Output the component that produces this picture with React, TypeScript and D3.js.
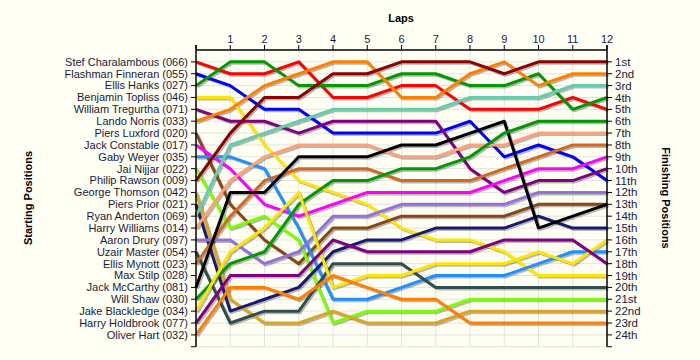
import React from "react";
import * as d3 from "d3";

const drivers = [
  "Stef Charalambous (066)", "Flashman Finneran (055)", "Ellis Hanks (027)", "Benjamin Topliss (046)",
  "William Tregurtha (071)", "Lando Norris (033)", "Piers Luxford (020)", "Jack Constable (017)",
  "Gaby Weyer (035)", "Jai Nijjar (022)", "Philip Rawson (009)", "George Thomson (042)",
  "Piers Prior (021)", "Ryan Anderton (069)", "Harry Williams (014)", "Aaron Drury (097)",
  "Uzair Master (054)", "Ellis Mynott (023)", "Max Stilp (028)", "Jack McCarthy (081)",
  "Will Shaw (030)", "Jake Blackledge (034)", "Harry Holdbrook (077)", "Oliver Hart (032)",
];

const finishLabels = [
  "1st", "2nd", "3rd", "4th", "5th", "6th", "7th", "8th", "9th", "10th", "11th", "12th",
  "13th", "14th", "15th", "16th", "17th", "18th", "19th", "20th", "21st", "22nd", "23rd", "24th",
];

const lapLabels = ["1", "2", "3", "4", "5", "6", "7", "8", "9", "10", "11", "12"];

// positions at laps 0..12
const stef = [1, 2, 2, 1, 4, 4, 3, 3, 5, 5, 5, 4, 5];
const flashman = [2, 3, 5, 5, 7, 7, 7, 7, 6, 9, 8, 9, 11];
const ellisHanks = [3, 1, 1, 3, 3, 3, 2, 2, 3, 3, 2, 5, 4];
const benjamin = [4, 4, 8, 11, 12, 13, 15, 16, 16, 17, 19, 19, 19];
const william = [5, 6, 6, 7, 6, 6, 6, 6, 10, 12, 11, 11, 10];
const lando = [6, 5, 3, 2, 1, 1, 4, 4, 2, 1, 3, 2, 2];
const piersLuxford = [7, 13, 16, 18, 15, 15, 14, 14, 14, 14, 13, 13, 13];
const jackConstable = [8, 10, 13, 14, 13, 12, 12, 12, 12, 11, 10, 10, 9];
const gaby = [9, 9, 10, 15, 21, 21, 20, 19, 19, 19, 18, 17, 17];
const jai = [10, 15, 14, 16, 23, 22, 22, 22, 21, 21, 21, 21, 21];
const philip = [11, 7, 4, 4, 2, 2, 1, 1, 1, 2, 1, 1, 1];
const george = [12, 21, 23, 23, 22, 23, 23, 23, 22, 22, 22, 22, 22];
const piersPrior = [13, 22, 21, 20, 17, 16, 16, 15, 15, 15, 14, 15, 15];
const ryan = [14, 8, 7, 6, 5, 5, 5, 5, 4, 4, 4, 3, 3];
const harryWilliams = [15, 11, 9, 8, 8, 8, 9, 9, 8, 8, 7, 7, 7];
const aaron = [16, 16, 18, 17, 14, 14, 13, 13, 13, 13, 12, 12, 12];
const uzair = [17, 23, 22, 22, 18, 18, 18, 20, 20, 20, 20, 20, 20];
const ellisMynott = [18, 14, 11, 10, 10, 10, 11, 11, 11, 10, 9, 8, 8];
const jackMcCarthy = [20, 12, 12, 9, 9, 9, 8, 8, 7, 6, 15, 14, 13];
const willShaw = [21, 18, 17, 13, 11, 11, 10, 10, 9, 7, 6, 6, 6];
const jake = [22, 17, 15, 12, 20, 19, 19, 18, 18, 18, 17, 18, 16];
const harryHoldbrook = [23, 19, 19, 19, 16, 17, 17, 17, 17, 16, 16, 16, 18];
const oliver = [24, 20, 20, 21, 19, 20, 21, 21, 23, 23, 23, 23, 23];

const series: { data: number[]; color: string }[] = [
  { data: stef, color: "#FF0000" },
  { data: flashman, color: "#0000FF" },
  { data: ellisHanks, color: "#009900" },
  { data: benjamin, color: "#FFE600" },
  { data: william, color: "#800080" },
  { data: lando, color: "#FF8000" },
  { data: piersLuxford, color: "#8B4513" },
  { data: jackConstable, color: "#FF00FF" },
  { data: gaby, color: "#1E90FF" },
  { data: jai, color: "#7CFC00" },
  { data: philip, color: "#8B0000" },
  { data: george, color: "#DAA520" },
  { data: piersPrior, color: "#191970" },
  { data: ryan, color: "#66CDAA" },
  { data: harryWilliams, color: "#FFA07A" },
  { data: aaron, color: "#9370DB" },
  { data: uzair, color: "#2F4F4F" },
  { data: ellisMynott, color: "#D2691E" },
  { data: jackMcCarthy, color: "#000000" },
  { data: willShaw, color: "#009900" },
  { data: jake, color: "#FFE600" },
  { data: harryHoldbrook, color: "#800080" },
  { data: oliver, color: "#FF8000" },
];

const W = 700;
const H = 360;
const font = "'Liberation Sans', Arial, sans-serif";
const textColor = "#1a1a3a";

export default function App() {
  const x = d3.scaleLinear().domain([0, 12]).range([196, 607]);
  const y = d3.scaleLinear().domain([0, 25]).range([50, 346.75]);
  const line = d3
    .line<number>()
    .x((_, i) => x(i))
    .y((d) => y(d));

  const rows = d3.range(1, 26);
  const laps = d3.range(0, 13);

  return (
    <svg
      width={W}
      height={H}
      style={{ position: "absolute", left: 0, top: 0 }}
      fontFamily={font}
    >
      <rect x={0} y={0} width={W} height={H} fill="#FFFFF4" />
      {/* grid */}
      {rows.map((r) => (
        <line key={"gh" + r} x1={x(0)} x2={x(12)} y1={y(r)} y2={y(r)} stroke="#E2E2E2" strokeWidth={1} />
      ))}
      {laps.slice(1, 12).map((l) => (
        <line key={"gv" + l} x1={x(l)} x2={x(l)} y1={y(0)} y2={y(25)} stroke="#E2E2E2" strokeWidth={1} />
      ))}
      {/* shadows */}
      {series.map((s, i) => (
        <path
          key={"sh" + i}
          d={line(s.data) || ""}
          fill="none"
          stroke="rgba(0,0,0,0.28)"
          strokeWidth={3}
          strokeLinejoin="round"
          transform="translate(1.5,1.5)"
        />
      ))}
      {/* lines */}
      {series.map((s, i) => (
        <path
          key={"ln" + i}
          d={line(s.data) || ""}
          fill="none"
          stroke={s.color}
          strokeWidth={3}
          strokeLinejoin="round"
        />
      ))}
      {/* axes */}
      <line x1={x(0)} x2={x(12)} y1={y(0)} y2={y(0)} stroke="#000" strokeWidth={1.5} />
      <line x1={x(0)} x2={x(0)} y1={y(0) - 5} y2={y(25)} stroke="#000" strokeWidth={1.5} />
      <line x1={x(12)} x2={x(12)} y1={y(0) - 5} y2={y(25)} stroke="#000" strokeWidth={1.5} />
      {laps.map((l) => (
        <line key={"tt" + l} x1={x(l)} x2={x(l)} y1={y(0) - 5} y2={y(0)} stroke="#000" strokeWidth={1} />
      ))}
      {lapLabels.map((t, i) => (
        <text key={"tl" + i} x={x(i + 1)} y={y(0) - 7} textAnchor="middle" fontSize={11} fill={textColor}>
          {t}
        </text>
      ))}
      {rows.map((r) => (
        <g key={"rt" + r}>
          <line x1={x(0) - 5} x2={x(0)} y1={y(r)} y2={y(r)} stroke="#000" strokeWidth={1} />
          <line x1={x(12)} x2={x(12) + 5} y1={y(r)} y2={y(r)} stroke="#000" strokeWidth={1} />
        </g>
      ))}
      {drivers.map((d, i) => (
        <text
          key={"dl" + i}
          x={x(0) - 8}
          y={y(i + 1)}
          dy="0.35em"
          textAnchor="end"
          fontSize={11}
          fill={textColor}
        >
          {d}
        </text>
      ))}
      {finishLabels.map((d, i) => (
        <text
          key={"fl" + i}
          x={x(12) + 8}
          y={y(i + 1)}
          dy="0.35em"
          textAnchor="start"
          fontSize={11.5}
          fill={textColor}
        >
          {d}
        </text>
      ))}
      {/* titles */}
      <text x={401} y={22} textAnchor="middle" fontSize={11} fontWeight="bold" fill="#000">
        Laps
      </text>
      <text
        transform="translate(32,198) rotate(-90)"
        textAnchor="middle"
        fontSize={11}
        fontWeight="bold"
        fill="#000"
      >
        Starting Positions
      </text>
      <text
        transform="translate(662,198) rotate(90)"
        textAnchor="middle"
        fontSize={11}
        fontWeight="bold"
        fill="#000"
      >
        Finishing Positions
      </text>
    </svg>
  );
}
